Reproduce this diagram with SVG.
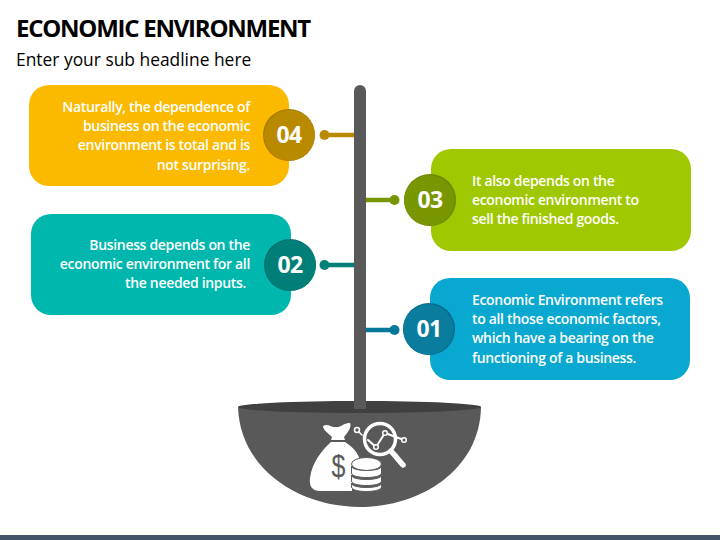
<svg xmlns="http://www.w3.org/2000/svg" width="720" height="540" viewBox="0 0 720 540">
<style>
text{font-family:"Open Sans","Noto Sans","Liberation Sans",sans-serif}
.t{font-size:14px;font-weight:600;fill:#fff;letter-spacing:-.33px}
.e{text-anchor:end}
.n{font-size:23px;font-weight:700;fill:#fff;text-anchor:middle;letter-spacing:-.6px}
.ic{fill:#fff}
.il{fill:none;stroke:#fff;stroke-linecap:round;stroke-linejoin:round}
</style>
<rect width="720" height="540" fill="#fff"/>
<text x="16" y="37" font-size="24" font-weight="700" fill="#000" letter-spacing="-1.25">ECONOMIC ENVIRONMENT</text>
<text x="16" y="66" font-size="17.400" font-weight="400" fill="#000">Enter your sub headline here</text>
<rect y="535" width="720" height="5" fill="#44546a"/>
<g id="connectors">
<g stroke-width="4.500" fill="none"><path d="M324 135H356" stroke="#b98a00"/><path d="M394 200H366" stroke="#789600"/><path d="M324 265H356" stroke="#007f78"/><path d="M394 330H366" stroke="#00789b"/></g>
<circle cx="324.500" cy="135" r="5" fill="#b98a00"/><circle cx="394.500" cy="200" r="5" fill="#789600"/><circle cx="324.500" cy="265" r="5" fill="#007f78"/><circle cx="394.500" cy="330" r="5" fill="#00789b"/>
</g>
<g id="stem"><path d="M354 409V91a6 6 0 0 1 12 0V409Z" fill="#595959"/></g>
<g id="bowl">
<path d="M238 407C240 470 300 507 360 507S480 470 481 407Z" fill="#595959"/>
<ellipse cx="359.500" cy="407" rx="121.500" ry="6" fill="#404040"/>
<path d="M354 400H366V409H354Z" fill="#595959"/>
<g id="icon">
<path class="ic" d="M323 426C328 423 331 428 336 427C340 428 345 422 350 423C352 427 348 432 344 437L345 440H331L332 437C328 433 323 430 323 426Z"/>
<path class="ic" d="M331 442H345C353 447 358 453 360 460L352 463V491H320C312 491 309 486 310 478C312 463 321 451 331 442Z"/>
<text transform="translate(338.500 477) scale(.78 1)" font-size="32" fill="#595959" text-anchor="middle" style="font-family:'Liberation Sans',sans-serif" font-weight="400">$</text>
<g fill="#fff" stroke="#595959" stroke-width="1"><ellipse cx="366.500" cy="464" rx="15" ry="6.500"/><path d="M351.500 466C351.500 472 381.500 472 381.500 466V473C381.500 479 351.500 479 351.500 473Z"/><path d="M351.500 475C351.500 481 381.500 481 381.500 475V481C381.500 487 351.500 487 351.500 481Z"/><path d="M351.500 483C351.500 489 381.500 489 381.500 483V487C381.500 493 351.500 493 351.500 487Z"/></g>
<circle class="il" cx="380" cy="439" r="15.500" stroke-width="3.500"/>
<path class="il" stroke-width="5.500" d="M391 451L403 465"/>
<path class="il" stroke-width="2" d="M368 440L376 447L385 433L404 440"/>
<g fill="#595959" stroke="#fff" stroke-width="1.500"><circle cx="376" cy="447" r="2.300"/><circle cx="385" cy="433" r="2.300"/><circle cx="404" cy="440" r="2.300"/><circle cx="357" cy="430" r="2.500"/></g>
<path class="il" stroke-width="1.500" d="M359 432L362 435"/>
</g>
</g>
<g id="node-04">
<rect x="29" y="85" width="260" height="101" rx="20" fill="#fbb900"/>
<circle cx="289" cy="135" r="26" fill="#a67c00"/><circle cx="289.500" cy="135.300" r="25.300" fill="#b98a00"/>
<text class="n" x="289" y="143">04</text>
<text class="t e" x="250" y="112">Naturally, the dependence of</text>
<text class="t e" x="250" y="131">business on the economic</text>
<text class="t e" x="250" y="150">environment is total and is</text>
<text class="t e" x="250" y="170">not surprising.</text>
</g>
<g id="node-03">
<rect x="431" y="149" width="260" height="102" rx="20" fill="#a0c800"/>
<circle cx="430" cy="200" r="26" fill="#6a8500"/><circle cx="429.500" cy="200.300" r="25.300" fill="#789600"/>
<text class="n" x="430" y="208">03</text>
<text class="t" x="472" y="186">It also depends on the</text>
<text class="t" x="472" y="205">economic environment to</text>
<text class="t" x="472" y="224">sell the finished goods.</text>
</g>
<g id="node-02">
<rect x="31" y="214" width="260" height="101" rx="20" fill="#00b7ae"/>
<circle cx="290" cy="265" r="26" fill="#00706a"/><circle cx="290.500" cy="265.300" r="25.300" fill="#007f78"/>
<text class="n" x="290" y="273">02</text>
<text class="t e" x="250" y="250">Business depends on the</text>
<text class="t e" x="250" y="269">economic environment for all</text>
<text class="t e" x="246" y="288">the needed inputs.</text>
</g>
<g id="node-01">
<rect x="430" y="278" width="260" height="102" rx="20" fill="#08a8d0"/>
<circle cx="429" cy="329" r="26" fill="#006a89"/><circle cx="428.500" cy="329.300" r="25.300" fill="#0a7c9e"/>
<text class="n" x="429" y="337">01</text>
<text class="t" x="472" y="305">Economic Environment refers</text>
<text class="t" x="472" y="324">to all those economic factors,</text>
<text class="t" x="472" y="343">which have a bearing on the</text>
<text class="t" x="472" y="363">functioning of a business.</text>
</g>
</svg>
